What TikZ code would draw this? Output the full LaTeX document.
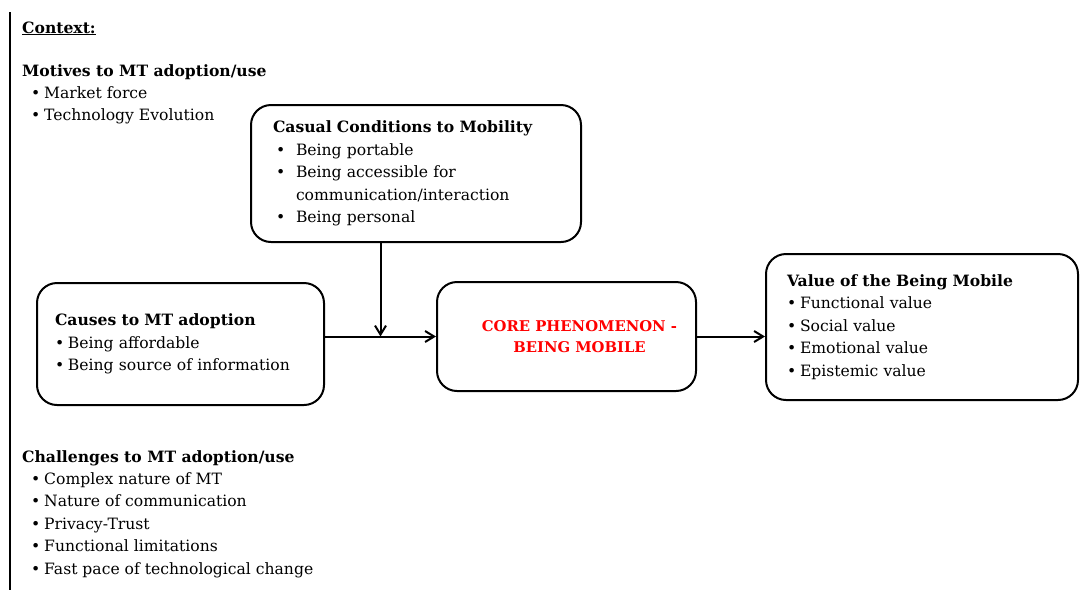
\documentclass[tikz,border=0pt]{standalone}
\usepackage{fontspec}
\setmainfont{DejaVu Serif}
\usetikzlibrary{arrows.meta}
\usetikzlibrary{calc}

% bullets: tight one for the lists, wide one for the conditions box
\newcommand{\itm}{\hspace*{9pt}\makebox[13pt][l]{\textbullet}}
\newcommand{\itmbox}{\hspace*{3pt}\makebox[20pt][l]{\textbullet}}
\newcommand{\itmin}{\makebox[13pt][l]{\textbullet}}

\begin{document}
\begin{tikzpicture}[x=1pt, y=-1pt]

		\tikzstyle{block} = [draw=black, line width=2pt, rounded corners=20pt, inner sep=0pt, align=left, font=\fontsize{15.6}{22.4}\selectfont]
		\tikzstyle{edge} = [line width=2pt, -{Straight Barb[length=9pt, width=11pt, line width=2pt]}]
		\tikzstyle{notes} = [inner sep=0pt, align=left, anchor=north west, font=\fontsize{15.6}{22.4}\selectfont]

		\useasboundingbox (0,0) rectangle (1083,590);
		\draw[line width=1.8pt] (10,12) -- (10,590);

		% context around the model
		\node[notes, anchor=base west](context) at (22,33){\textbf{\underline{Context:}}};
		\node[notes](motives) at (22,64){\textbf{Motives to MT adoption/use}\\
			\itm Market force\\
			\itm Technology Evolution};
		\node[notes](challenges) at (22,450){\textbf{Challenges to MT adoption/use}\\
			\itm Complex nature of MT\\
			\itm Nature of communication\\
			\itm Privacy-Trust\\
			\itm Functional limitations\\
			\itm Fast pace of technological change};

		% the model
		\node[block, minimum width=330pt, minimum height=137pt, text width=286pt](casual) at (416,173.5){\textbf{Casual Conditions to Mobility}\\
			\itmbox Being portable\\
			\itmbox Being accessible for\\
			\hspace*{23pt}communication/interaction\\
			\itmbox Being personal};
		\node[block, minimum width=287pt, minimum height=122pt, text width=251pt](causes) at (180.5,344){\textbf{Causes to MT adoption}\\
			\itmin Being affordable\\
			\itmin Being source of information};
		\node[block, minimum width=259pt, minimum height=109pt, align=center, text=red, font=\fontsize{14.8}{21}\selectfont\bfseries](core) at (566.5,336.5){\hspace*{26pt}CORE PHENOMENON -\\\hspace*{26pt}BEING MOBILE};
		\node[block, minimum width=312pt, minimum height=146pt, text width=270pt](value) at (922,327){\textbf{Value of the Being Mobile}\\
			\itmin Functional value\\
			\itmin Social value\\
			\itmin Emotional value\\
			\itmin Epistemic value};

		\coordinate (join) at ($(causes.east |- core.west)!0.5!(core.west)$);

		\draw[edge] (causes.east |- core.west) -- (core.west);
		\draw[edge] (casual.south -| join) -- (join);
		\draw[edge] (core.east) -- (value.west |- core.east);

  \end{tikzpicture}
\end{document}
